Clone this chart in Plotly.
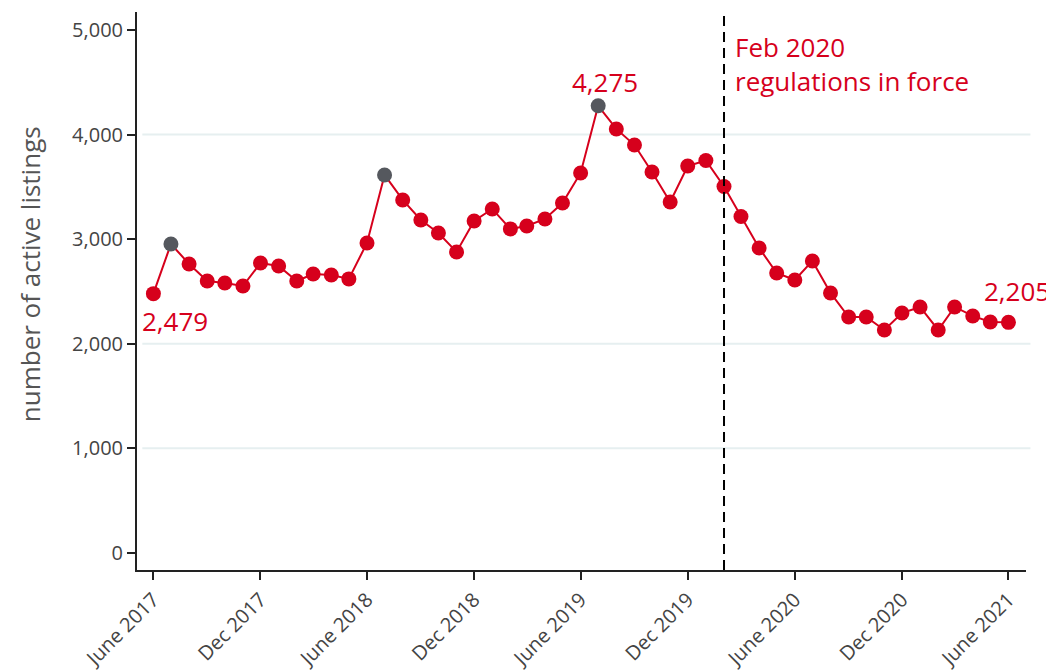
import plotly.graph_objects as go
import pandas as pd

months = pd.date_range("2017-06-01", "2021-06-01", freq="MS").strftime("%Y-%m-%d").tolist()
listings = [2479, 2954, 2763, 2600, 2581, 2552, 2772, 2744, 2600, 2667, 2658, 2620,
            2964, 3614, 3375, 3184, 3059, 2878, 3174, 3289, 3098, 3126, 3193, 3346,
            3633, 4275, 4054, 3900, 3642, 3356, 3700, 3752, 3504, 3217, 2916, 2677,
            2610, 2792, 2486, 2256, 2256, 2132, 2294, 2352, 2132, 2352, 2266, 2208, 2205]
highlight = ["2017-07-01", "2018-07-01", "2019-07-01"]
tick_vals = ["2017-06-01", "2017-12-01", "2018-06-01", "2018-12-01", "2019-06-01",
             "2019-12-01", "2020-06-01", "2020-12-01", "2021-06-01"]
tick_text = ["June 2017", "Dec 2017", "June 2018", "Dec 2018", "June 2019",
             "Dec 2019", "June 2020", "Dec 2020", "June 2021"]
y_ticks = [0, 1000, 2000, 3000, 4000, 5000]
grid_vals = [1000, 2000, 4000]
reg_date = "2020-02-01"

RED = "#d6001c"
GRAY = "#55585e"
FONT = "Open Sans"

colors = [GRAY if m in highlight else RED for m in months]

fig = go.Figure()
fig.add_trace(go.Scatter(
    x=months, y=listings, mode="lines+markers",
    line=dict(color=RED, width=2),
    marker=dict(color=colors, size=15, line=dict(width=0)),
    hoverinfo="x+y", showlegend=False,
))

for g in grid_vals:
    fig.add_shape(type="line", xref="paper", x0=0.006, x1=1.005, yref="y", y0=g, y1=g,
                  line=dict(color="#e6eff0", width=2), layer="below")

fig.add_shape(type="line", xref="x", x0=reg_date, x1=reg_date, yref="paper", y0=0, y1=1,
              line=dict(color="black", width=2, dash="10px,6px"))

ann_font = dict(family=FONT, size=26, color=RED)
fig.add_annotation(x=months[0], y=listings[0], text=f"{listings[0]:,}", showarrow=False,
                   xanchor="left", yanchor="middle", xshift=-13, yshift=-27, font=ann_font)
i_max = listings.index(max(listings))
fig.add_annotation(x=months[i_max], y=listings[i_max], text=f"{listings[i_max]:,}", showarrow=False,
                   xanchor="center", yanchor="middle", xshift=7, yshift=24, font=ann_font)
fig.add_annotation(x=months[-1], y=listings[-1], text=f"{listings[-1]:,}", showarrow=False,
                   xanchor="center", yanchor="middle", xshift=9, yshift=31, font=ann_font)
fig.add_annotation(x=reg_date, y=0.937, xref="x", yref="paper",
                   text="Feb 2020", showarrow=False,
                   xanchor="left", yanchor="middle", align="left", xshift=9, font=ann_font)
fig.add_annotation(x=reg_date, y=0.876, xref="x", yref="paper",
                   text="regulations in force", showarrow=False,
                   xanchor="left", yanchor="middle", align="left", xshift=9, font=ann_font)

fig.add_annotation(x=-0.1204, y=0.53, xref="paper", yref="paper",
                   text="number of active listings", textangle=-90, showarrow=False,
                   xanchor="center", yanchor="middle",
                   font=dict(family=FONT, size=26, color="#555"))

fig.update_layout(
    width=1054, height=671,
    margin=dict(l=129, r=36, t=4, b=109),
    plot_bgcolor="white", paper_bgcolor="white",
    font=dict(family=FONT, color="#444"),
    xaxis=dict(
        type="date", range=["2017-05-04", "2021-07-01"], automargin=False,
        tickvals=tick_vals, ticktext=tick_text, tickangle=-45,
        ticks="outside", ticklen=8, tickwidth=2, tickcolor="#222",
        showline=True, linecolor="#222", linewidth=2, showgrid=False, zeroline=False,
        tickfont=dict(family=FONT, size=20, color="#444"),
    ),
    yaxis=dict(
        range=[-163, 5172], tickvals=y_ticks, tickformat=",", automargin=False,
        ticks="outside", ticklen=8, tickwidth=2, tickcolor="#222",
        showline=True, linecolor="#222", linewidth=2, showgrid=False, zeroline=False,
        tickfont=dict(family=FONT, size=20, color="#444"),
    ),
)

fig.write_html("out.html")
